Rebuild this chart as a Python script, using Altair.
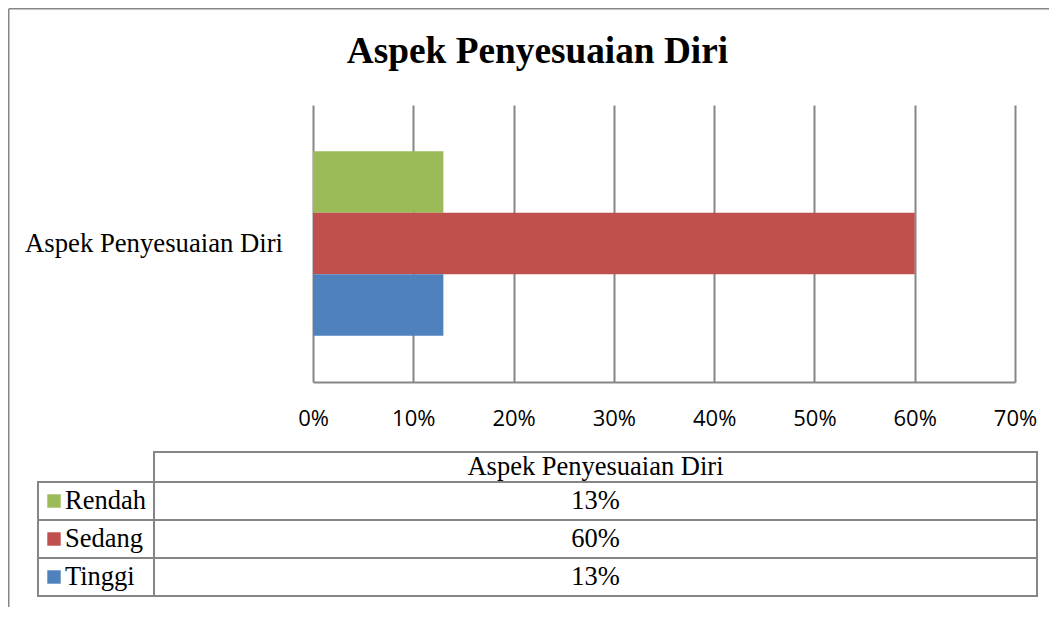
import altair as alt
import pandas as pd

# ---- data ----
category = "Aspek Penyesuaian Diri"
series = ["Rendah", "Sedang", "Tinggi"]
values = [0.13, 0.60, 0.13]
value_labels = ["13%", "60%", "13%"]
colors = ["#9BBB59", "#C0504D", "#4F81BD"]
tick_values = [0, 0.1, 0.2, 0.3, 0.4, 0.5, 0.6, 0.7]

GRID = "#868686"
SERIF = "Liberation Serif"
TFONT = 26.5

df = pd.DataFrame({"category": [category] * 3, "series": series,
                   "value": values, "label": value_labels})
cat_df = pd.DataFrame({"category": [category]})

color_scale = alt.Scale(domain=series, range=colors)
band_cat = alt.Scale(paddingInner=0, paddingOuter=0.25)

# ---- row 1: bars and category label ----
bars = alt.Chart(df).mark_bar().encode(
    x=alt.X("value:Q",
            scale=alt.Scale(domain=[0, 0.7], range=[275, 977], nice=False, zero=True),
            axis=alt.Axis(values=tick_values, format=".0%", grid=True,
                          gridColor=GRID, gridWidth=2, domainColor=GRID,
                          domainWidth=2, ticks=False, labelFont="Open Sans",
                          labelFontSize=22, labelColor="black", labelPadding=26,
                          labelFlush=False, title=None)),
    y=alt.Y("category:N", axis=None, scale=band_cat),
    yOffset=alt.YOffset("series:N", sort=series,
                        scale=alt.Scale(paddingInner=0, paddingOuter=0)),
    color=alt.Color("series:N", scale=color_scale, legend=None),
)
cat_label = alt.Chart(cat_df).mark_text(
    font=SERIF, fontSize=26.7, align="right", baseline="alphabetic", dy=8.5,
    color="black",
).encode(
    x=alt.value(245),
    y=alt.Y("category:N", axis=None, scale=band_cat),
    text="category:N",
)

row1 = alt.layer(bars, cat_label).properties(
    width=977, height=277,
    title=alt.TitleParams(text=category, font=SERIF, fontSize=37.3,
                          fontWeight="bold", color="black", anchor="middle",
                          frame="group", dx=11, offset=5,
                          baseline="alphabetic"),
)

# ---- row 2: table header ----
band0 = alt.Scale(paddingInner=0, paddingOuter=0)
band_hdr = alt.Scale(paddingInner=1 / 7, paddingOuter=1, align=1)
data_col = alt.Scale(paddingInner=0, paddingOuter=0, range=[116, 999])
legend_col = alt.Scale(paddingInner=0, paddingOuter=0, range=[0, 116])

hdr_rect = alt.Chart(cat_df).mark_rect(fill="white", stroke=GRID, strokeWidth=2).encode(
    x=alt.X("category:N", axis=None, scale=data_col),
    y=alt.Y("category:N", axis=None, scale=band_hdr))
hdr_text = alt.Chart(cat_df).mark_text(font=SERIF, fontSize=TFONT, color="black",
                                        baseline="middle").encode(
    x=alt.X("category:N", axis=None, scale=data_col),
    y=alt.Y("category:N", axis=None, scale=band_hdr),
    text="category:N")
row2 = alt.layer(hdr_rect, hdr_text).properties(width=999, height=100)

# ---- row 3: table body with legend column, plus the outer chart frame ----
frame_top = alt.Chart(cat_df).mark_rule(color=GRID, strokeWidth=1.5).encode(
    x=alt.value(-29.25), x2=alt.value(1011), y=alt.value(-473.25))
frame_left = alt.Chart(cat_df).mark_rule(color=GRID, strokeWidth=1.5).encode(
    x=alt.value(-29.25), y=alt.value(-473.25), y2=alt.value(125))
leg_rect = alt.Chart(df).mark_rect(fill="white", stroke=GRID, strokeWidth=2).encode(
    x=alt.X("category:N", axis=None, scale=legend_col),
    y=alt.Y("series:N", sort=series, axis=None, scale=band0))
body_rect = alt.Chart(df).mark_rect(fill="white", stroke=GRID, strokeWidth=2).encode(
    x=alt.X("category:N", axis=None, scale=data_col),
    y=alt.Y("series:N", sort=series, axis=None, scale=band0))
leg_sw = alt.Chart(df).mark_square(size=180, opacity=1).encode(
    x=alt.value(16),
    y=alt.Y("series:N", sort=series, axis=None, scale=band0),
    color=alt.Color("series:N", scale=color_scale, legend=None))
leg_text = alt.Chart(df).mark_text(font=SERIF, fontSize=TFONT, color="black",
                                    align="left", baseline="middle").encode(
    x=alt.value(27),
    y=alt.Y("series:N", sort=series, axis=None, scale=band0),
    text="series:N")
body_text = alt.Chart(df).mark_text(font=SERIF, fontSize=TFONT, color="black",
                                     baseline="middle").encode(
    x=alt.X("category:N", axis=None, scale=data_col),
    y=alt.Y("series:N", sort=series, axis=None, scale=band0),
    text="label:N")
row3 = alt.layer(frame_top, frame_left, leg_rect, body_rect, leg_sw, leg_text,
                 body_text).resolve_scale(x="independent").properties(
    width=999, height=114)

chart = alt.vconcat(row1, row2, row3, spacing=0, bounds="flush").properties(
    padding=0, background="white"
).configure_view(stroke=None)

chart.save("out.html", embed_options={"renderer": "svg", "actions": False})
